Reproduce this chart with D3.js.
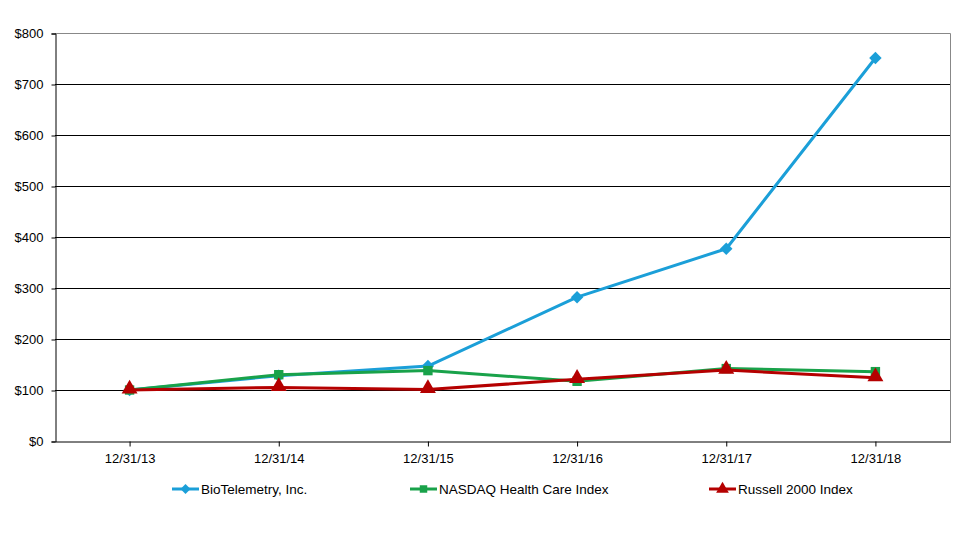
<!DOCTYPE html>
<html>
<head>
<meta charset="utf-8">
<script src="https://cdn.jsdelivr.net/npm/d3@7"></script>
<style>
  body { margin: 0; background: #fff; }
  text { font-family: "Liberation Sans", Arial, sans-serif; }
</style>
</head>
<body>
<div id="chart"></div>
<script>
// data
const years = ["12/31/13", "12/31/14", "12/31/15", "12/31/16", "12/31/17", "12/31/18"];
const bioTelemetry = [100, 128, 147, 282, 377, 751];
const nasdaqHealth = [100, 130, 138, 117, 142, 136];
const russell2000 = [100, 105, 101, 121, 139, 124];
const yTicks = [0, 100, 200, 300, 400, 500, 600, 700, 800];

const series = [
    { name: "BioTelemetry, Inc.", values: bioTelemetry, color: "#1B9FD8", marker: "diamond" },
    { name: "NASDAQ Health Care Index", values: nasdaqHealth, color: "#19A24A", marker: "square" },
    { name: "Russell 2000 Index", values: russell2000, color: "#B50000", marker: "triangle" }
];

const W = 963, H = 540;
const plot = { left: 55, top: 33, right: 950, bottom: 441 };

const svg = d3.select("#chart").append("svg")
    .attr("width", W)
    .attr("height", H);

const x = d3.scaleBand()
    .domain(years)
    .range([plot.left, plot.right]);

const y = d3.scaleLinear()
    .domain([0, 800])
    .range([plot.bottom, plot.top]);

// gridlines
svg.append("g")
    .selectAll("line")
    .data(yTicks.filter(d => d > 0 && d < 800))
    .enter()
    .append("line")
    .attr("x1", plot.left)
    .attr("x2", plot.right)
    .attr("y1", d => Math.round(y(d)) + 0.5)
    .attr("y2", d => Math.round(y(d)) + 0.5)
    .attr("stroke", "#000")
    .attr("stroke-width", 1);

// top and right border (gray)
svg.append("path")
    .attr("d", `M${plot.left},${plot.top + 0.5}H${plot.right + 0.5}V${plot.bottom}`)
    .attr("fill", "none")
    .attr("stroke", "#888")
    .attr("stroke-width", 1);

// y axis
const yAxis = svg.append("g")
    .attr("transform", `translate(${plot.left + 0.5},0.5)`)
    .call(d3.axisLeft(y).tickValues(yTicks).tickSize(4).tickPadding(8)
        .tickFormat(d => "$" + d));
yAxis.select(".domain").attr("stroke", "#000");
yAxis.selectAll("line").attr("stroke", "#000");
yAxis.selectAll("text").attr("font-size", 13).attr("fill", "#000")
    .attr("font-family", "Liberation Sans, Arial, sans-serif");

// x axis
const xAxis = svg.append("g")
    .attr("transform", `translate(0.5,${plot.bottom + 0.5})`)
    .call(d3.axisBottom(x).tickSize(5).tickSizeOuter(0).tickPadding(7));
xAxis.select(".domain").attr("stroke", "#000");
xAxis.selectAll("line").attr("stroke", "#000");
xAxis.selectAll("text").attr("font-size", 13).attr("fill", "#000")
    .attr("font-family", "Liberation Sans, Arial, sans-serif");

const cx = d => x(d) + x.bandwidth() / 2;

const line = d3.line()
    .x((v, i) => cx(years[i]))
    .y(v => y(v));

function markerPath(type, s) {
    if (type === "diamond") return d3.symbol(d3.symbolDiamond2, s * 9)();
    if (type === "square") return d3.symbol(d3.symbolSquare, s * 8)();
    return d3.symbol(d3.symbolTriangle, s * 10)();
}

// draw series
series.forEach(s => {
    svg.append("path")
        .datum(s.values)
        .attr("d", line)
        .attr("fill", "none")
        .attr("stroke", s.color)
        .attr("stroke-width", 3)
        .attr("stroke-linejoin", "round");

    svg.append("g")
        .selectAll("path")
        .data(s.values)
        .enter()
        .append("path")
        .attr("d", markerPath(s.marker, 11))
        .attr("transform", (v, i) => `translate(${cx(years[i])},${y(v) - (s.marker === "triangle" ? 1 : 0)})`)
        .attr("fill", s.color);
});

// legend
const legendX = [172, 410, 709];
const legendY = 489;
const legend = svg.append("g");
series.forEach((s, i) => {
    const g = legend.append("g").attr("transform", `translate(${legendX[i]},${legendY})`);
    g.append("line")
        .attr("x1", 0).attr("x2", 27)
        .attr("y1", 0).attr("y2", 0)
        .attr("stroke", s.color)
        .attr("stroke-width", 3);
    g.append("path")
        .attr("d", markerPath(s.marker, 7))
        .attr("transform", "translate(13.5,0)")
        .attr("fill", s.color);
    g.append("text")
        .attr("x", 29)
        .attr("y", 5)
        .attr("font-size", 13.5)
        .attr("fill", "#000")
        .text(s.name);
});
</script>
</body>
</html>
